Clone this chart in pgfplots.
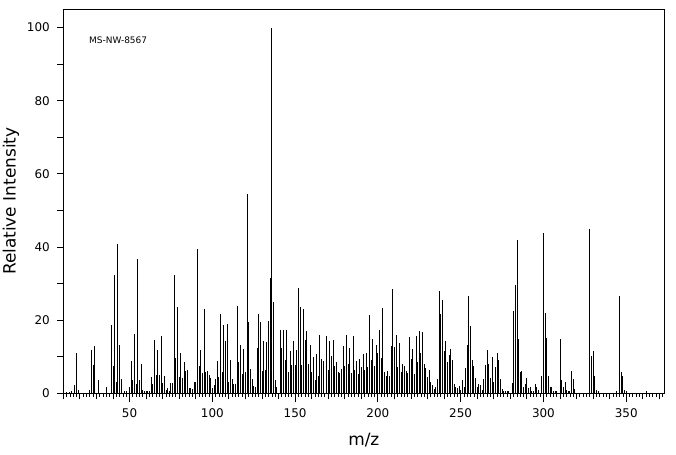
\documentclass[border=0pt]{standalone}
\usepackage{fontspec}
\setmainfont{DejaVu Sans}
\usepackage{pgfplots}
\pgfplotsset{compat=1.18}
\pgfplotstableread{
x y
12 0.3
14 0.3
15 0.7
17 2.2
18 11.0
19 1.0
26 1.0
27 11.9
28 7.7
29 13.0
31 3.7
36 1.6
39 18.7
40 7.5
41 32.4
42 3.1
43 40.9
44 13.2
45 3.9
47 0.6
48 0.6
50 1.6
51 8.9
52 3.7
53 16.3
54 2.6
55 36.8
56 3.7
57 8.0
58 0.9
59 0.7
60 0.7
61 0.7
62 0.6
63 4.4
64 2.5
65 14.6
66 5.0
67 11.9
68 5.0
69 15.7
70 2.9
71 4.7
72 0.9
73 1.4
74 0.6
75 2.7
76 2.9
77 32.4
78 9.6
79 23.5
80 4.4
81 11.0
82 4.3
83 8.6
84 6.2
85 6.4
86 1.4
87 1.4
88 1.2
89 3.0
90 3.2
91 39.5
92 7.5
93 11.9
94 5.6
95 23.1
96 5.9
97 6.1
98 5.0
99 4.2
100 1.5
101 2.2
102 4.0
103 8.9
104 4.5
105 21.7
106 5.9
107 18.6
108 14.4
109 19.0
110 3.0
111 9.0
112 3.9
113 2.6
114 2.6
115 24.0
116 8.5
117 13.2
118 5.3
119 12.2
120 5.8
121 54.6
122 19.5
123 6.7
124 3.9
125 2.0
126 1.8
127 12.5
128 21.7
129 19.5
130 6.2
131 14.4
132 6.5
133 13.9
134 19.9
135 31.4
136 100
137 25.0
138 3.6
139 1.7
141 17.4
142 12.5
143 17.4
144 9.0
145 17.2
146 5.9
147 11.7
148 7.8
149 14.3
150 7.8
151 11.9
152 28.9
153 23.7
154 7.8
155 23.1
156 14.6
157 17.1
158 8.0
159 13.2
160 5.7
161 10.0
162 3.7
163 10.8
164 4.8
165 16.0
166 9.3
167 8.7
169 15.7
170 6.4
171 14.2
172 10.2
173 14.6
174 7.5
175 8.5
176 5.9
177 5.5
178 6.7
179 12.8
180 7.6
181 16.0
182 8.0
183 12.5
184 5.5
185 15.7
186 6.4
187 8.7
188 5.2
189 9.4
190 7.3
191 10.8
192 6.4
193 11.1
194 7.3
195 21.5
196 9.1
197 14.9
198 7.5
199 13.2
200 11.0
201 17.4
202 9.6
203 23.3
204 5.9
205 4.7
206 6.2
207 4.6
208 12.8
209 28.6
210 12.6
211 16.0
212 7.3
213 13.7
214 5.8
215 7.9
216 7.5
217 6.1
218 5.6
219 15.3
220 9.4
221 12.0
222 5.3
223 15.7
224 8.5
225 17.1
226 11.1
227 16.7
228 8.0
229 6.8
230 4.4
231 6.3
232 3.0
233 2.3
234 1.2
235 1.6
236 3.9
237 28.0
238 21.6
239 25.6
240 11.6
241 14.2
242 8.5
243 10.5
244 12.1
245 9.1
246 2.5
247 1.6
248 1.4
249 2.1
250 0.9
251 3.7
252 1.6
253 6.8
254 13.2
255 26.7
256 18.3
257 9.1
258 7.5
259 4.1
260 1.8
261 2.5
262 2.3
263 0.9
264 3.9
265 7.8
266 11.9
267 8.0
268 4.3
269 10.0
270 3.1
271 7.3
272 11.1
273 9.1
274 3.9
275 1.2
276 0.6
277 0.7
278 0.6
279 0.5
281 2.8
282 22.6
283 29.7
284 42.0
285 14.9
286 5.9
287 6.2
288 1.8
289 2.6
290 4.3
291 1.4
292 1.7
293 0.6
294 0.6
295 2.6
296 1.6
297 0.8
299 4.8
300 43.7
301 21.9
302 15.1
303 4.6
304 1.6
305 1.6
306 0.5
307 0.5
308 0.5
310 14.9
311 3.7
312 1.8
313 3.2
314 0.9
315 0.7
316 0.7
317 6.2
318 3.8
319 1.2
328 44.9
329 10.2
330 11.6
331 4.7
332 0.9
333 0.5
344 0.5
346 26.7
347 5.9
348 4.7
349 0.9
350 0.5
362 0.5
}\spectrum
\begin{document}
\begin{tikzpicture}
\useasboundingbox (0,0) rectangle (676bp,455bp);
\begin{axis}[
  at={(63.3bp,61.7bp)}, anchor=south west,
  scale only axis, width=601bp, height=384bp,
  xmin=10, xmax=373, ymin=0, ymax=105,
  axis line style={line width=0.9bp},
  tick style={black, line width=0.8bp},
  tick align=outside,
  xtick pos=left, ytick pos=left,
  major tick length=6bp,
  minor tick length=3.5bp,
  xtick={10,20,...,370},
  xticklabels={,,,,50,,,,,100,,,,,150,,,,,200,,,,,250,,,,,300,,,,,350,,},
  minor xtick={10,12,...,372},
  extra x ticks={50,100,...,350},
  extra x tick labels={},
  extra x tick style={major tick length=9bp},
  ytick={0,10,...,100},
  yticklabels={0,,20,,40,,60,,80,,100},
  tick label style={font=\fontsize{12}{12}\selectfont},
  xticklabel style={yshift=-6bp},
  yticklabel style={xshift=-4bp},
  xlabel={m/z}, ylabel={Relative Intensity},
  label style={font=\fontsize{17}{17}\selectfont},
  xlabel style={at={(axis description cs:0.5,-0.1216)}, anchor=center},
  ylabel style={at={(axis description cs:-0.087,0.5)}, anchor=center},
  clip=false,
]
\addplot[ycomb, black, line width=0.9bp, mark=none] table {\spectrum};
\node[anchor=west, font=\fontsize{9}{9}\selectfont] at (axis cs:23.5,96.5) {MS-NW-8567};
\end{axis}
\end{tikzpicture}
\end{document}
